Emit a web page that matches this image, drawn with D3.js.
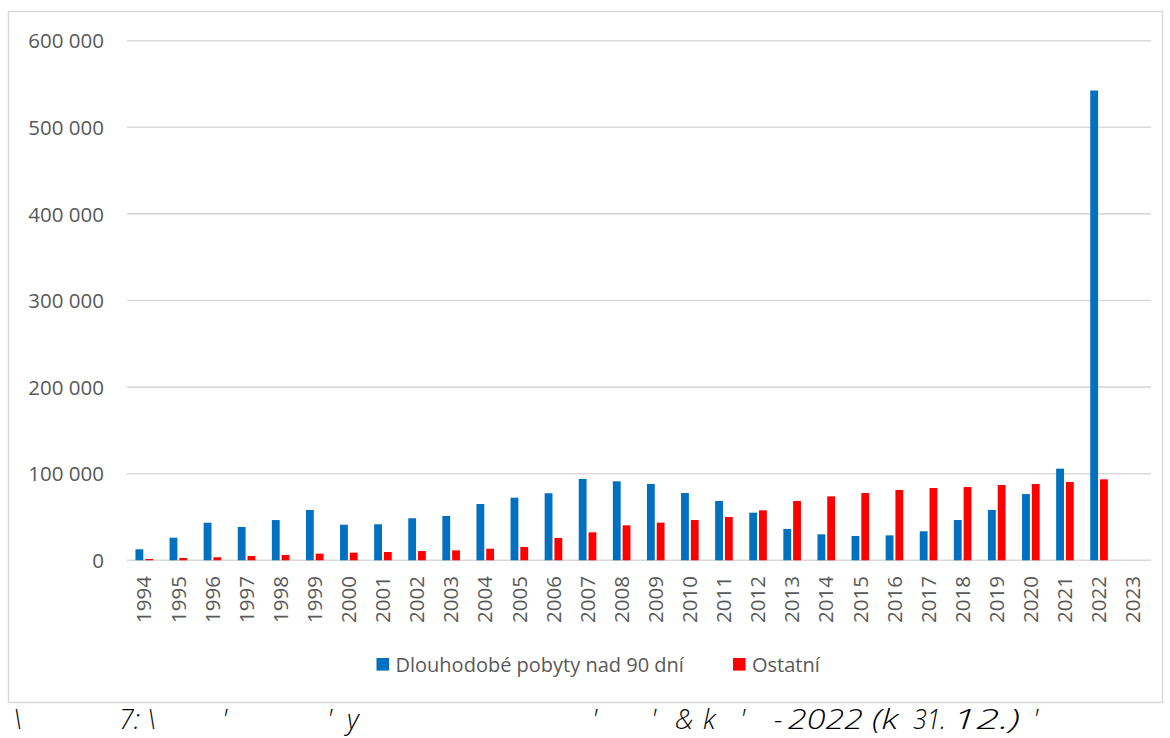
<!DOCTYPE html>
<html>
<head>
<meta charset="utf-8">
<script src="https://cdn.jsdelivr.net/npm/d3@7"></script>
<style>
  html, body { margin: 0; padding: 0; background: #fff; }
  svg { display: block; }
</style>
</head>
<body>
<svg id="chart" width="1170" height="738"></svg>
<script>
const years = ["1994","1995","1996","1997","1998","1999","2000","2001","2002","2003","2004","2005","2006","2007","2008","2009","2010","2011","2012","2013","2014","2015","2016","2017","2018","2019","2020","2021","2022","2023"];
const seriesNames = ["Dlouhodobé pobyty nad 90 dní", "Ostatní"];
const longStay = [12700, 26100, 43400, 38500, 46500, 58100, 41100, 41600, 48500, 51200, 65000, 72300, 77400, 94000, 91200, 88100, 77700, 68500, 55000, 36200, 30000, 28100, 28800, 33500, 46500, 58100, 76500, 105800, 542500, null];
const other = [1500, 2700, 3500, 5000, 6100, 7700, 8800, 9600, 10700, 11500, 13400, 15400, 25800, 32300, 40400, 43500, 46500, 50000, 57700, 68500, 73800, 77700, 81200, 83500, 84600, 86900, 88100, 90400, 93500, null];
const yTicks = [0, 100000, 200000, 300000, 400000, 500000, 600000];
const colors = ["#0070C0", "#FF0000"];
const captionPieces = [
  {t: "\\", x: 13}, {t: "7:", x: 119}, {t: "\\", x: 147}, {t: "'", x: 222}, {t: "'", x: 327},
  {t: "y", x: 347}, {t: "'", x: 592}, {t: "'", x: 651}, {t: "&", x: 675}, {t: "k", x: 703},
  {t: "'", x: 740}, {t: "-", x: 774}, {t: "2022", x: 788, w: 75}, {t: "(k", x: 872, w: 26},
  {t: "31.", x: 913, w: 33}, {t: "12.)", x: 953, w: 67}, {t: "'", x: 1033}
];

const svg = d3.select("#chart");
const font = "'Open Sans', 'Noto Sans', sans-serif";
const gray = "#595959";

// frame
svg.append("rect").attr("x", 8.5).attr("y", 11.5).attr("width", 1154).attr("height", 691)
  .attr("fill", "none").attr("stroke", "#D9D9D9").attr("stroke-width", 1.5);

const x0 = d3.scaleBand().domain(years).range([127, 1150]).paddingInner(0).paddingOuter(0);
const bw = x0.bandwidth();
const x1 = d3.scaleBand().domain([0, 1]).range([bw * 0.248, bw * 0.764]).paddingInner(0.2).paddingOuter(0);
const y = d3.scaleLinear().domain([0, 600000]).range([560.3, 40.7]);

// gridlines
svg.append("g").selectAll("line").data(yTicks).join("line")
  .attr("x1", 127).attr("x2", 1151)
  .attr("y1", d => y(d)).attr("y2", d => y(d))
  .attr("stroke", "#D9D9D9").attr("stroke-width", 1.6);

// y labels via axis
const yAxis = d3.axisLeft(y).tickValues(yTicks).tickSize(0).tickPadding(0)
  .tickFormat(d => d3.format(",")(d).replace(/,/g, " "));
const gy = svg.append("g").attr("transform", "translate(104,0)").call(yAxis);
gy.select(".domain").remove();
gy.selectAll("text").attr("font-family", font).attr("font-size", 20.5).attr("fill", gray).attr("dy", "0.35em");

// bars
const seriesData = [longStay, other];
seriesData.forEach((vals, si) => {
  svg.append("g").selectAll("rect")
    .data(years.map((yr, i) => ({yr, v: vals[i]})).filter(d => d.v != null))
    .join("rect")
    .attr("x", d => x0(d.yr) + x1(si))
    .attr("width", x1.bandwidth())
    .attr("y", d => y(d.v))
    .attr("height", d => y(0) - y(d.v))
    .attr("fill", colors[si]);
});

// x axis labels
const xAxis = d3.axisBottom(x0).tickSize(0).tickPadding(0);
const gx = svg.append("g").attr("transform", "translate(0,576)").call(xAxis);
gx.select(".domain").remove();
gx.selectAll("text")
  .attr("font-family", font).attr("font-size", 20.5).attr("fill", gray)
  .attr("transform", "rotate(-90)")
  .attr("text-anchor", "end").attr("x", 0).attr("y", 0).attr("dy", "0.36em");

// legend
const legX = [376.5, 733];
seriesNames.forEach((name, i) => {
  svg.append("rect").attr("x", legX[i]).attr("y", 658).attr("width", 12.6).attr("height", 12.6).attr("fill", colors[i]);
  svg.append("text").attr("x", legX[i] + 19).attr("y", 671.5)
    .attr("font-family", font).attr("font-size", 20).attr("fill", gray).text(name);
});

// caption
const cap = svg.append("text").attr("y", 729)
  .attr("font-family", "'Open Sans', 'DejaVu Sans', sans-serif")
  .attr("font-style", "italic").attr("font-weight", 300).attr("font-size", 27).attr("fill", "#000");
captionPieces.forEach(p => {
  const ts = cap.append("tspan").attr("x", p.x).text(p.t);
  if (p.w) ts.attr("textLength", p.w).attr("lengthAdjust", "spacingAndGlyphs");
});
</script>
</body>
</html>
